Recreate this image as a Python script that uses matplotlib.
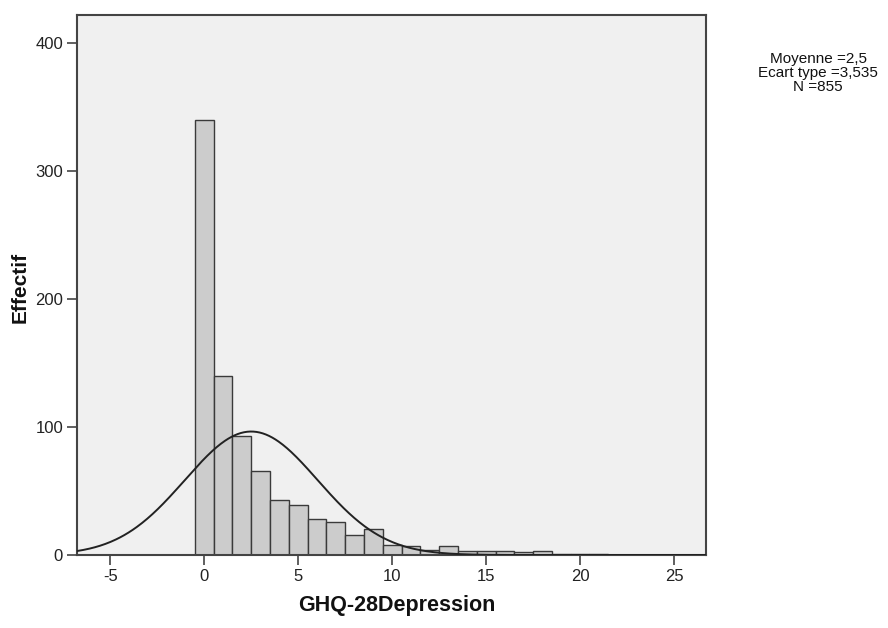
import numpy as np
import matplotlib
matplotlib.use("Agg")
import matplotlib.pyplot as plt

# Data
bin_centers = list(range(0, 22))
counts = [340, 140, 93, 66, 43, 39, 28, 26, 16, 20, 8, 7, 4, 7, 3, 3, 3, 2, 3, 1, 1, 1]
mean_val = 2.5
sd_val = 3.535
n_val = 855
x_ticks = [-5, 0, 5, 10, 15, 20, 25]
y_ticks = [0, 100, 200, 300, 400]
stats_lines = ["Moyenne =2,5", "Ecart type =3,535", "N =855"]

plt.rcParams['font.family'] = ['Liberation Sans', 'DejaVu Sans']

fig = plt.figure(figsize=(8.88, 6.28), dpi=100)
fig.patch.set_facecolor('white')
ax = fig.add_axes([77/888, 1-555/628, (706-77)/888, (555-15)/628])
ax.set_facecolor('#F0F0F0')

ax.bar(bin_centers, counts, width=1.0, align='center', color='#CCCCCC',
       edgecolor='#3a3a3a', linewidth=1.0, zorder=2)

xmin, xmax = -6.77, 26.7
xs = np.linspace(xmin, xmax, 600)
pdf = n_val * 1.0 / (sd_val * np.sqrt(2*np.pi)) * np.exp(-0.5*((xs-mean_val)/sd_val)**2)
ax.plot(xs, pdf, color='#222222', linewidth=1.4, zorder=3)

ax.set_xlim(xmin, xmax)
ax.set_ylim(0, 422)
ax.set_xticks(x_ticks)
ax.set_yticks(y_ticks)
ax.set_xticklabels([str(v) for v in x_ticks])
ax.set_yticklabels([str(v) for v in y_ticks])
ax.tick_params(axis='both', direction='out', length=7, width=1.2, color='#444444',
               labelsize=12, labelcolor='#222222', pad=3)
ax.tick_params(top=False, right=False)
for sp in ax.spines.values():
    sp.set_color('#444444')
    sp.set_linewidth(1.5)

fig.text(20/888, 1-287/628, "Effectif", rotation=90, ha='center', va='center',
         fontsize=15, fontweight='bold', color='#111111')
fig.text(397/888, 1-605/628, "GHQ-28Depression", ha='center', va='center',
         fontsize=15.5, fontweight='bold', color='#111111')

baselines = [63, 77, 91]
for line, yb in zip(stats_lines, baselines):
    fig.text(818/888, 1-yb/628, line, ha='center', va='baseline',
             fontsize=11, color='#111111')

fig.savefig("out.png", dpi=100, facecolor='white')
